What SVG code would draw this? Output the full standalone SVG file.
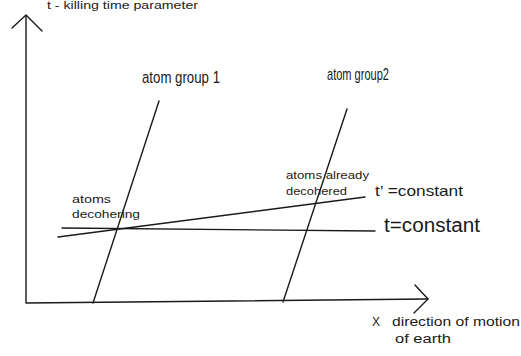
<svg xmlns="http://www.w3.org/2000/svg" width="521" height="356" viewBox="0 0 521 356">
<style>
.ln{fill:none;stroke:#1a1a1a;stroke-width:1.4;stroke-linecap:round;stroke-linejoin:round}
.t{font-family:"Liberation Sans",Arial,sans-serif;fill:#1a1a1a}
</style>
<rect width="521" height="356" fill="#fff"/>
<g id="connectors">
<g id="axes">
<path class="ln" d="M26,16 L26,303 L428,299"/>
<path class="ln" d="M12,28 L26,15 L42,31"/>
<path class="ln" d="M415,285 L428,299 L414,313"/>
</g>
<line id="group1-line" class="ln" x1="93" y1="303" x2="159" y2="101"/>
<line id="group2-line" class="ln" x1="283" y1="302" x2="347" y2="109"/>
<line id="t-const" class="ln" x1="62" y1="228" x2="375" y2="231"/>
<line id="tprime-const" class="ln" x1="58" y1="237" x2="365" y2="197"/>
</g>
<g id="label-t-axis"><text class="t" x="47" y="9" font-size="10" textLength="151" lengthAdjust="spacingAndGlyphs">t - killing time parameter</text></g>
<g id="label-group1"><text class="t" x="142" y="83" font-size="17" textLength="78" lengthAdjust="spacingAndGlyphs">atom group 1</text></g>
<g id="label-group2"><text class="t" x="327" y="80" font-size="17" textLength="62" lengthAdjust="spacingAndGlyphs">atom group2</text></g>
<g id="label-decohering"><text class="t" font-size="11"><tspan x="72" y="203" textLength="39" lengthAdjust="spacingAndGlyphs">atoms</tspan><tspan x="72" y="218" textLength="68" lengthAdjust="spacingAndGlyphs">decohering</tspan></text></g>
<g id="label-decohered"><text class="t" font-size="10.5"><tspan x="286" y="179" textLength="83" lengthAdjust="spacingAndGlyphs">atoms already</tspan><tspan x="286" y="195" textLength="61" lengthAdjust="spacingAndGlyphs">decohered</tspan></text></g>
<g id="label-tprime"><text class="t" x="375" y="196" font-size="15" textLength="88" lengthAdjust="spacingAndGlyphs">t’ =constant</text></g>
<g id="label-t"><text class="t" x="384" y="232" font-size="19.5" textLength="96" lengthAdjust="spacingAndGlyphs">t=constant</text></g>
<g id="label-x"><text class="t" font-size="12"><tspan x="372" y="326">X</tspan><tspan x="392" y="326" textLength="128" lengthAdjust="spacingAndGlyphs">direction of motion</tspan><tspan x="395" y="343" textLength="56" lengthAdjust="spacingAndGlyphs">of earth</tspan></text></g>
</svg>
